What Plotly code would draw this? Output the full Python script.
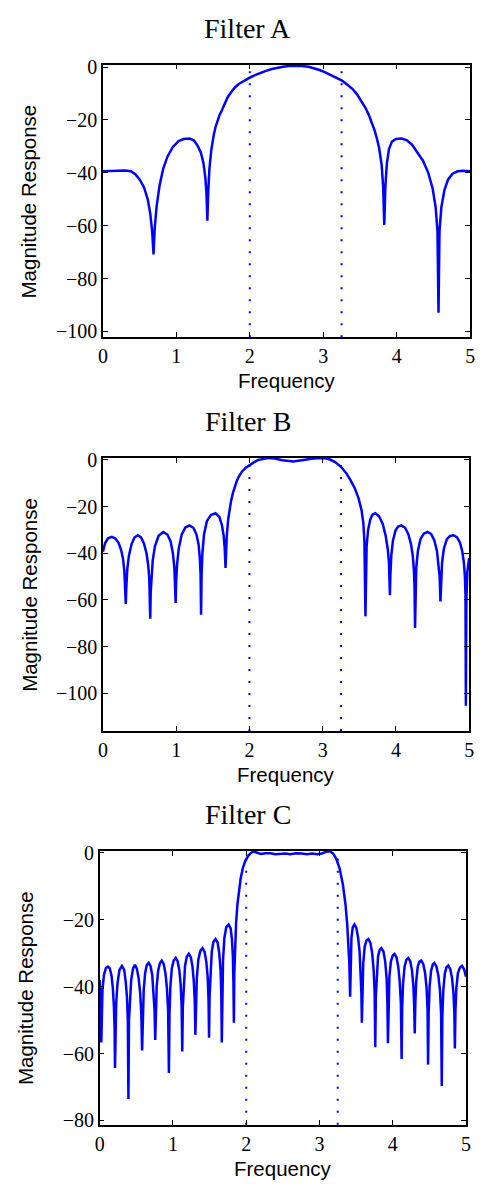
import plotly.graph_objects as go

# ---- magnitude responses (dB) of three band-pass filters ----
A_freq = [0.000, 0.100, 0.200, 0.300, 0.380, 0.440, 0.500, 0.560, 0.610, 0.645, 0.670, 0.689, 0.705,
          0.730, 0.770, 0.820, 0.880, 0.950, 1.030, 1.100, 1.178, 1.240, 1.290, 1.335, 1.370, 1.395,
          1.410, 1.422, 1.434, 1.450, 1.475, 1.490, 1.510, 1.535, 1.560, 1.590, 1.620, 1.660, 1.700,
          1.750, 1.800, 1.850, 1.900, 1.950, 2.000, 2.070, 2.150, 2.220, 2.300, 2.380, 2.450, 2.530,
          2.622, 2.710, 2.800, 2.870, 2.950, 3.020, 3.100, 3.170, 3.250, 3.320, 3.400, 3.460, 3.520,
          3.570, 3.620, 3.660, 3.700, 3.730, 3.760, 3.795, 3.815, 3.831, 3.846, 3.866, 3.895, 3.935,
          3.990, 4.067, 4.140, 4.210, 4.290, 4.360, 4.430, 4.490, 4.530, 4.555, 4.569, 4.583, 4.608,
          4.650, 4.700, 4.760, 4.830, 4.900, 5.000]
A_mag = [-39.4, -39.3, -39.2, -39.1, -39.4, -40.5, -42.5, -45.5, -50.0, -55.5, -62.0, -70.9, -61.0,
         -53.0, -45.0, -38.5, -33.8, -30.3, -28.0, -27.2, -27.0, -27.8, -29.8, -32.5, -36.5, -42.0,
         -48.0, -58.1, -47.0, -38.5, -31.5, -28.5, -25.5, -22.5, -20.0, -18.0, -16.3, -13.6, -11.3,
         -9.3, -7.6, -6.4, -5.5, -4.7, -4.0, -3.0, -2.0, -1.4, -0.7, -0.2, 0.1, 0.4,
         0.5, 0.4, 0.1, -0.4, -1.1, -1.9, -2.9, -3.9, -5.0, -6.5, -8.3, -10.3, -12.8,
         -15.2, -18.0, -20.8, -24.0, -27.0, -30.5, -37.0, -45.0, -59.7, -45.0, -36.5, -31.0, -28.2,
         -27.2, -27.0, -27.7, -29.4, -32.5, -35.5, -40.0, -46.0, -53.0, -62.0, -92.9, -62.0, -53.0,
         -46.5, -42.5, -40.3, -39.4, -39.2, -39.4]

B_freq = [0.000, 0.030, 0.070, 0.120, 0.170, 0.215, 0.250, 0.275, 0.292, 0.305, 0.312, 0.319, 0.332,
          0.355, 0.390, 0.430, 0.476, 0.520, 0.560, 0.595, 0.618, 0.633, 0.640, 0.646, 0.652, 0.662,
          0.680, 0.710, 0.760, 0.824, 0.880, 0.925, 0.955, 0.975, 0.986, 0.993, 1.000, 1.012, 1.035,
          1.075, 1.125, 1.180, 1.235, 1.275, 1.305, 1.323, 1.333, 1.340, 1.347, 1.358, 1.380, 1.420,
          1.475, 1.536, 1.590, 1.625, 1.648, 1.662, 1.674, 1.690, 1.710, 1.730, 1.750, 1.775, 1.800,
          1.825, 1.850, 1.875, 1.900, 1.950, 2.000, 2.060, 2.120, 2.200, 2.260, 2.350, 2.450, 2.600,
          2.750, 2.850, 2.950, 3.020, 3.100, 3.170, 3.250, 3.320, 3.380, 3.440, 3.490, 3.530, 3.555,
          3.570, 3.584, 3.590, 3.600, 3.620, 3.650, 3.680, 3.718, 3.770, 3.820, 3.860, 3.890, 3.905,
          3.912, 3.918, 3.925, 3.937, 3.960, 3.995, 4.030, 4.074, 4.125, 4.170, 4.205, 4.230, 4.245,
          4.254, 4.261, 4.268, 4.278, 4.300, 4.335, 4.380, 4.430, 4.480, 4.525, 4.560, 4.583, 4.597,
          4.608, 4.617, 4.630, 4.655, 4.695, 4.740, 4.786, 4.835, 4.875, 4.905, 4.928, 4.942, 4.950,
          4.955, 4.962, 4.975, 4.990, 5.000]
B_mag = [-39.3, -35.6, -33.6, -33.0, -33.7, -35.6, -38.8, -42.5, -47.5, -55.0, -61.7, -55.0, -47.0,
         -41.0, -36.2, -33.3, -32.3, -33.2, -35.8, -40.0, -45.0, -51.0, -57.0, -68.0, -57.0, -50.0,
         -43.0, -37.0, -32.5, -30.9, -32.0, -35.0, -40.0, -46.0, -52.0, -61.3, -52.0, -45.0, -38.0,
         -32.0, -29.0, -28.1, -29.1, -31.8, -36.0, -42.0, -49.0, -66.3, -49.0, -40.0, -32.0, -26.2,
         -23.6, -22.9, -24.5, -28.0, -32.5, -37.5, -46.3, -33.0, -25.5, -21.0, -17.5, -14.2, -11.5,
         -9.3, -7.5, -6.1, -5.0, -3.4, -2.2, -1.1, -0.1, 0.6, 0.8, 0.5, -0.2, -0.7,
         -0.2, 0.4, 0.8, 0.7, 0.1, -1.0, -3.0, -5.6, -8.7, -12.3, -16.5, -21.5, -27.0,
         -35.0, -67.0, -45.0, -37.0, -30.0, -25.5, -23.5, -22.9, -24.2, -27.5, -32.5, -38.5, -44.0,
         -50.0, -57.9, -49.0, -41.0, -34.5, -30.2, -28.6, -28.1, -29.1, -31.8, -36.0, -41.0, -47.0,
         -54.0, -72.0, -54.0, -46.0, -39.0, -34.0, -31.6, -30.9, -31.7, -34.5, -39.0, -44.5, -50.0,
         -60.6, -50.0, -44.0, -38.0, -34.0, -32.6, -32.3, -33.2, -35.5, -39.0, -44.0, -50.0, -58.0,
         -105.2, -60.0, -48.0, -44.0, -42.0]

C_freq = [0.000, 0.010, 0.016, 0.022, 0.028, 0.038, 0.058, 0.085, 0.111, 0.137, 0.162, 0.180, 0.194,
          0.203, 0.209, 0.215, 0.225, 0.243, 0.270, 0.303, 0.335, 0.355, 0.372, 0.384, 0.392, 0.400,
          0.411, 0.430, 0.455, 0.481, 0.507, 0.532, 0.553, 0.568, 0.579, 0.588, 0.601, 0.620, 0.642,
          0.668, 0.694, 0.717, 0.735, 0.749, 0.758, 0.766, 0.778, 0.798, 0.822, 0.847, 0.873, 0.898,
          0.918, 0.934, 0.945, 0.953, 0.965, 0.985, 1.010, 1.038, 1.064, 1.088, 1.106, 1.119, 1.127,
          1.135, 1.147, 1.165, 1.190, 1.217, 1.244, 1.267, 1.285, 1.298, 1.306, 1.314, 1.326, 1.346,
          1.374, 1.404, 1.432, 1.455, 1.474, 1.486, 1.493, 1.500, 1.512, 1.530, 1.553, 1.582, 1.610,
          1.632, 1.650, 1.660, 1.667, 1.673, 1.684, 1.702, 1.728, 1.760, 1.788, 1.806, 1.818, 1.826,
          1.832, 1.838, 1.849, 1.862, 1.880, 1.900, 1.925, 1.955, 1.990, 2.030, 2.070, 2.100, 2.150,
          2.200, 2.260, 2.330, 2.400, 2.470, 2.540, 2.600, 2.680, 2.760, 2.830, 2.900, 2.970, 3.030,
          3.090, 3.143, 3.190, 3.230, 3.276, 3.321, 3.356, 3.379, 3.396, 3.408, 3.419, 3.426, 3.437,
          3.455, 3.477, 3.503, 3.527, 3.548, 3.564, 3.573, 3.579, 3.586, 3.598, 3.618, 3.642, 3.668,
          3.696, 3.720, 3.740, 3.754, 3.762, 3.770, 3.782, 3.800, 3.822, 3.846, 3.874, 3.898, 3.917,
          3.928, 3.935, 3.943, 3.955, 3.975, 4.000, 4.024, 4.052, 4.076, 4.096, 4.112, 4.122, 4.130,
          4.142, 4.162, 4.188, 4.212, 4.240, 4.264, 4.283, 4.294, 4.301, 4.309, 4.321, 4.342, 4.366,
          4.390, 4.418, 4.443, 4.463, 4.476, 4.483, 4.491, 4.504, 4.524, 4.546, 4.568, 4.596, 4.623,
          4.645, 4.661, 4.670, 4.678, 4.691, 4.712, 4.735, 4.759, 4.787, 4.811, 4.830, 4.842, 4.849,
          4.857, 4.869, 4.890, 4.918, 4.947, 4.975, 5.000]
C_mag = [-38.0, -42.5, -47.5, -56.7, -47.0, -41.0, -36.5, -34.4, -34.0, -34.5, -36.8, -40.5, -46.0,
         -52.0, -64.3, -52.0, -45.0, -39.0, -35.0, -33.8, -35.0, -38.5, -43.0, -50.0, -73.6, -50.0,
         -44.0, -38.0, -34.6, -33.5, -34.6, -37.5, -42.0, -48.0, -59.1, -48.0, -41.0, -36.0, -33.6,
         -32.9, -33.8, -36.5, -41.0, -47.0, -55.9, -46.0, -40.0, -35.2, -33.0, -32.2, -33.2, -36.0,
         -40.5, -47.0, -65.8, -48.0, -40.0, -34.5, -32.2, -31.4, -32.4, -35.2, -39.5, -46.0, -59.4,
         -46.0, -39.0, -33.8, -31.0, -30.2, -31.2, -34.0, -38.5, -44.5, -54.4, -44.0, -37.5, -32.0,
         -29.3, -28.5, -29.6, -32.5, -37.0, -44.0, -55.3, -43.0, -35.5, -29.5, -26.6, -25.8, -26.8,
         -30.0, -35.0, -42.0, -56.7, -41.0, -32.0, -25.5, -22.2, -21.4, -22.6, -26.0, -31.0, -39.0,
         -50.8, -36.0, -27.0, -21.0, -15.5, -11.3, -7.6, -4.5, -2.3, -0.8, 0.1, 0.4, 0.1,
         -0.3, -0.1, -0.1, -0.4, -0.2, -0.2, -0.4, -0.1, -0.2, -0.4, -0.2, -0.4, -0.2,
         0.3, 0.5, -0.3, -1.8, -4.7, -9.6, -15.5, -21.4, -27.3, -33.0, -43.0, -32.0, -25.5,
         -22.2, -21.4, -22.4, -25.2, -29.5, -35.5, -42.0, -50.8, -40.0, -33.0, -28.0, -26.2, -25.8,
         -26.9, -30.0, -35.0, -42.0, -58.1, -43.0, -36.0, -31.0, -29.0, -28.5, -29.5, -32.5, -37.5,
         -45.0, -56.9, -44.0, -37.0, -32.5, -30.7, -30.2, -31.2, -34.0, -38.5, -45.0, -61.6, -46.0,
         -39.0, -34.0, -31.9, -31.4, -32.4, -35.2, -40.0, -46.0, -54.0, -45.0, -38.5, -34.0, -32.5,
         -32.2, -33.3, -36.0, -40.5, -47.0, -63.3, -48.0, -40.0, -35.3, -33.4, -32.9, -33.9, -36.6,
         -41.0, -48.0, -69.7, -49.0, -41.0, -36.0, -34.2, -33.7, -34.8, -37.5, -42.0, -48.0, -58.5,
         -47.0, -40.5, -36.0, -34.3, -33.8, -34.8, -37.0]

# pass-band edges, drawn as dotted guides
band_edges = [2.0, 3.25]

titles = ["Filter A", "Filter B", "Filter C"]
x_ticks = [0, 1, 2, 3, 4, 5]
y_ticks_AB = [0, -20, -40, -60, -80, -100]
y_ticks_C = [0, -20, -40, -60, -80]
y_ranges = [[-102.2, 0.9], [-116.0, 0.8], [-81.3, 0.6]]

W, H = 482, 1193
BLUE = "#0000ff"
SERIF = "Liberation Serif, Times New Roman, serif"
SANS = "Liberation Sans, Arial, sans-serif"

# plot boxes in pixels: (left, right, top, bottom)
boxes = [(100, 475, 56.5, 332.7), (100, 474, 455.0, 731.7), (96.7, 470.7, 853.3, 1131.0)]

series = [(A_freq, A_mag, y_ticks_AB), (B_freq, B_mag, y_ticks_AB), (C_freq, C_mag, y_ticks_C)]

fig = go.Figure()
annotations = []
shapes = []

for i, ((fx, fy, yt), (l, r, t, b)) in enumerate(zip(series, boxes)):
    n = "" if i == 0 else str(i + 1)
    xa, ya = "x" + n, "y" + n
    fig.add_trace(go.Scatter(x=fx, y=fy, mode="lines", xaxis=xa, yaxis=ya,
                             line=dict(color=BLUE, width=2.5), showlegend=False,
                             hoverinfo="skip"))
    axis_common = dict(showline=True, linecolor="black", linewidth=1.5, mirror="ticks",
                       ticks="inside", ticklen=5, tickwidth=1, tickcolor="black",
                       showgrid=False, zeroline=False,
                       tickfont=dict(family=SERIF, size=20, color="black"))
    fig.update_layout(**{
        "xaxis" + n: dict(domain=[l / W, r / W], anchor=ya, range=[0, 5],
                          tickvals=x_ticks, ticktext=[str(v) for v in x_ticks], **axis_common),
        "yaxis" + n: dict(domain=[1 - b / H, 1 - t / H], anchor=xa, range=y_ranges[i],
                          tickvals=yt,
                          ticktext=[("\u2212" + str(-v)) if v < 0 else str(v) for v in yt],
                          **axis_common),
    })
    for e in band_edges:
        shapes.append(dict(type="line", xref=xa, yref=ya + " domain", x0=e, x1=e, y0=0, y1=1,
                           line=dict(color=BLUE, width=2, dash="2px,10px"), layer="below"))
    # panel title
    annotations.append(dict(text=titles[i], xref="paper", yref="paper", x=248 / W,
                            y=1 - (t - 36.5) / H, showarrow=False, xanchor="center",
                            yanchor="middle", font=dict(family=SERIF, size=28, color="black")))
    # axis titles
    annotations.append(dict(text="Frequency", xref="paper", yref="paper", x=(l + r) / 2 / W,
                            y=1 - (b + 44) / H, showarrow=False, xanchor="center",
                            yanchor="middle", font=dict(family=SANS, size=20.5, color="black")))
    annotations.append(dict(text="Magnitude Response", xref="paper", yref="paper",
                            x=(l - 75) / W, y=1 - (t + b) / 2 / H, showarrow=False,
                            xanchor="center", yanchor="middle", textangle=-90,
                            font=dict(family=SANS, size=20.5, color="black")))

fig.update_layout(width=W, height=H, margin=dict(l=0, r=0, t=0, b=0),
                  paper_bgcolor="white", plot_bgcolor="white",
                  annotations=annotations, shapes=shapes)

fig.write_html("out.html")
